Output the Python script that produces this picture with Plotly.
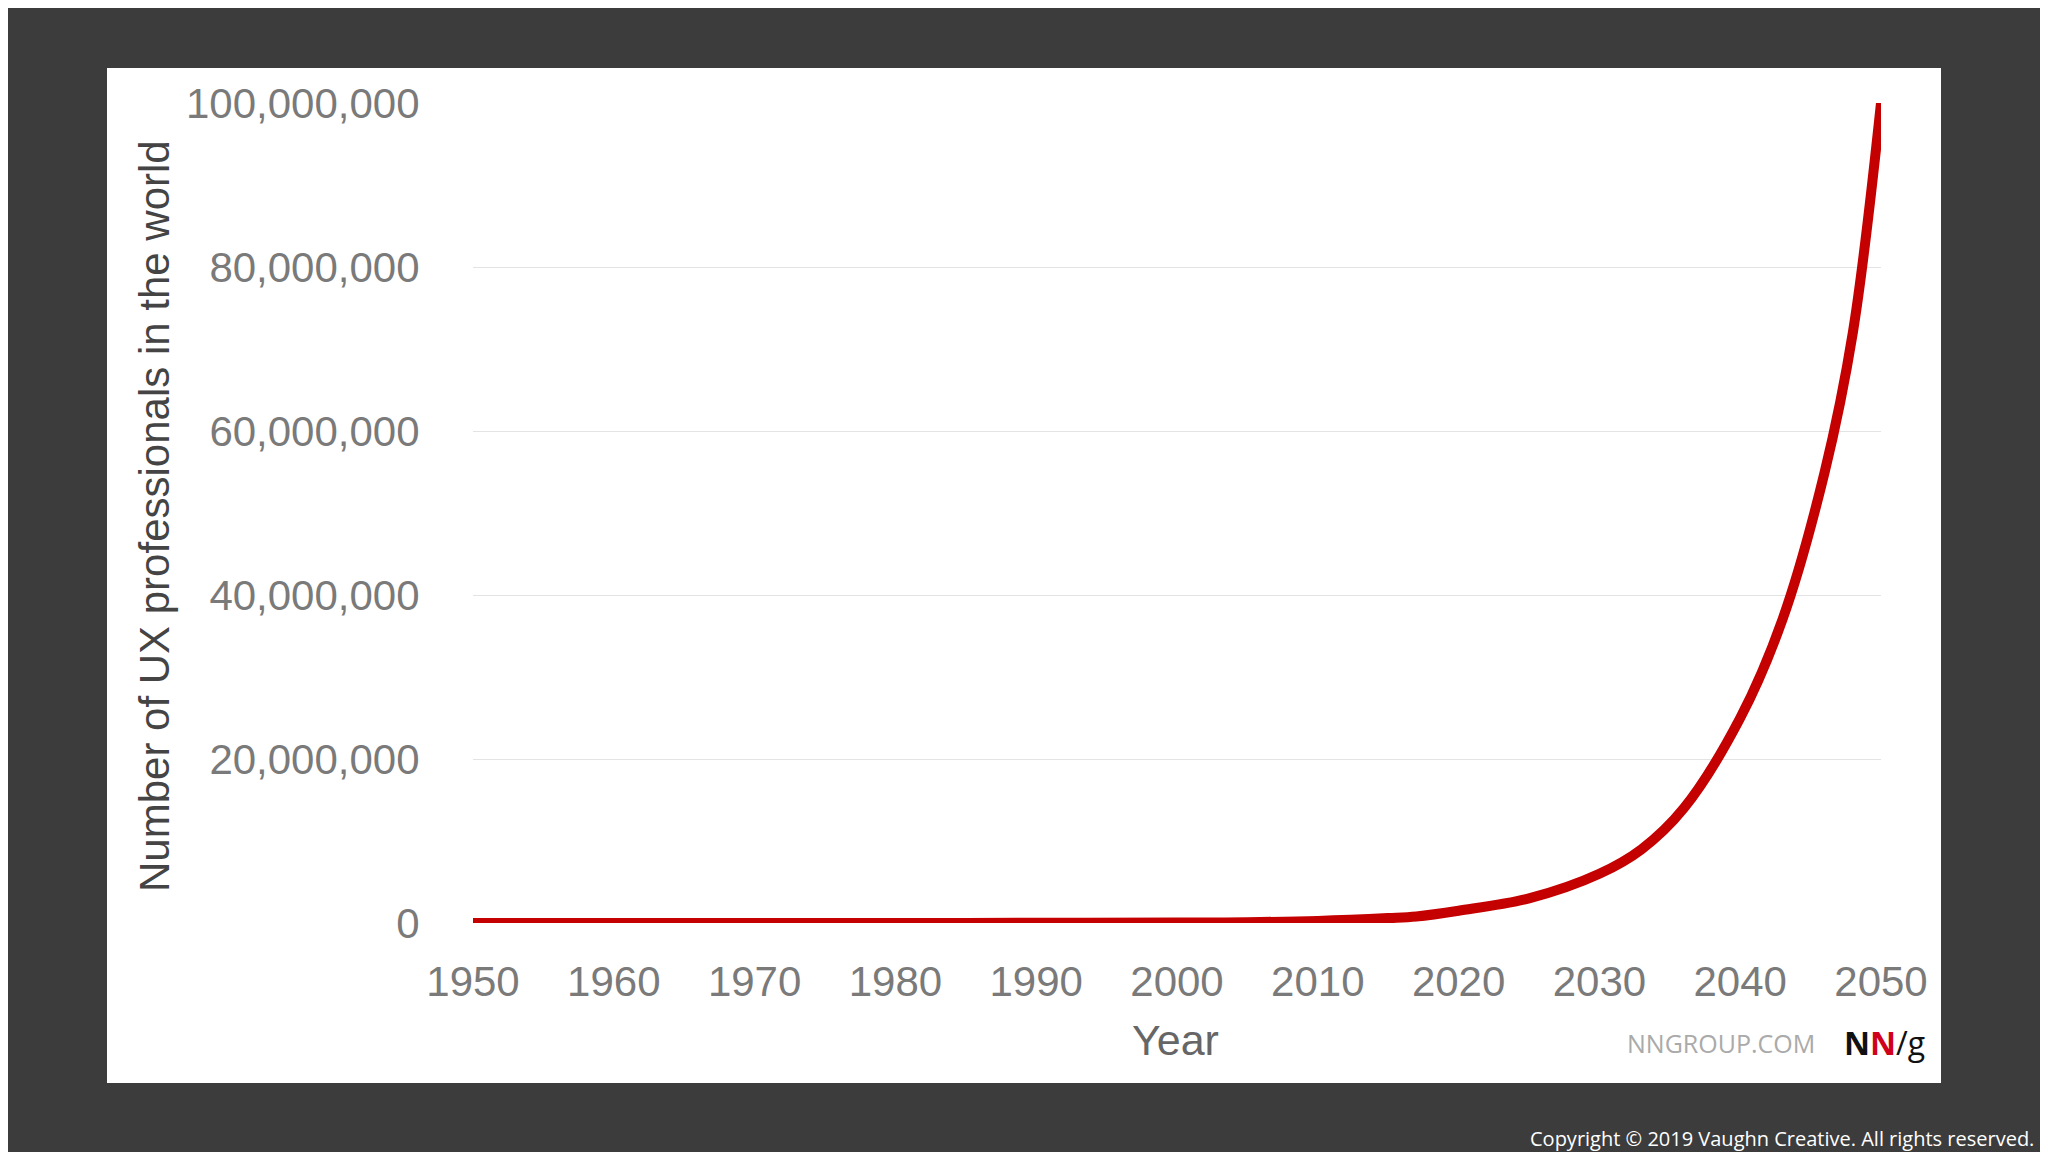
import plotly.graph_objects as go

years = [1950, 1960, 1970, 1980, 1990, 2000, 2005, 2010, 2015, 2017, 2020, 2025, 2030, 2033, 2036, 2040, 2043, 2046, 2048, 2050]
ux_people = [1000, 2000, 5000, 10000, 20000, 50000, 100000, 250000, 600000, 800000, 1500000, 3000000,
             6000000, 9000000, 14000000, 25000000, 37000000, 55000000, 72000000, 100000000]

W, H = 2048, 1152
OFF = 8  # page body offset
L, R, T, B = 473 - OFF, 167 + OFF, 103 - OFF, 229 + OFF
pw, ph = W - L - R, H - T - B

def px(x):
    return (x - OFF - L) / pw

def py(y):
    return (H - B - (y - OFF)) / ph

fig = go.Figure()
fig.add_trace(go.Scatter(x=years, y=ux_people, mode="lines", line=dict(color="#c40000", width=10, shape="spline"),
                         hoverinfo="skip"))

fig.add_shape(type="rect", xref="paper", yref="paper", x0=px(107), x1=px(1941), y0=py(1083), y1=py(68),
              fillcolor="white", line=dict(width=0), layer="below")

tick_font = dict(family="Liberation Sans", size=42, color="#7a7a7a")

def note(text, x, y, size, color, family="Liberation Sans", **kw):
    return dict(text=text, x=px(x), y=py(y), xref="paper", yref="paper", showarrow=False,
                xanchor="center", yanchor="middle", font=dict(family=family, size=size, color=color), **kw)

fig.update_layout(
    width=W, height=H, margin=dict(l=L, r=R, t=T, b=B),
    paper_bgcolor="#3c3c3c", plot_bgcolor="white", showlegend=False,
    xaxis=dict(range=[1950, 2050], dtick=10, showgrid=False, zeroline=False, tickfont=tick_font,
               ticks="outside", ticklen=22, tickcolor="rgba(0,0,0,0)"),
    yaxis=dict(range=[0, 100000000], dtick=20000000, tickformat=",d", showgrid=True, gridcolor="#e3e3e3",
               zeroline=False, tickfont=tick_font, ticks="outside", ticklen=44, tickcolor="rgba(0,0,0,0)"),
    annotations=[
        note("Number of UX professionals in the world", 154, 516, 42, "#444", textangle=-90),
        note("Year", 1175, 1040, 43, "#666"),
        note("NNGROUP.COM", 1721, 1043, 25, "#aaaaaa", family="Open Sans"),
        note("<b>N<span style='color:#d0021b'>N</span></b>/g", 1884, 1042, 32, "#111", family="Open Sans"),
        note("Copyright © 2019 Vaughn Creative. All rights reserved.", 1782, 1138, 20, "white", family="Open Sans"),
    ],
)

fig.write_html("out.html")
